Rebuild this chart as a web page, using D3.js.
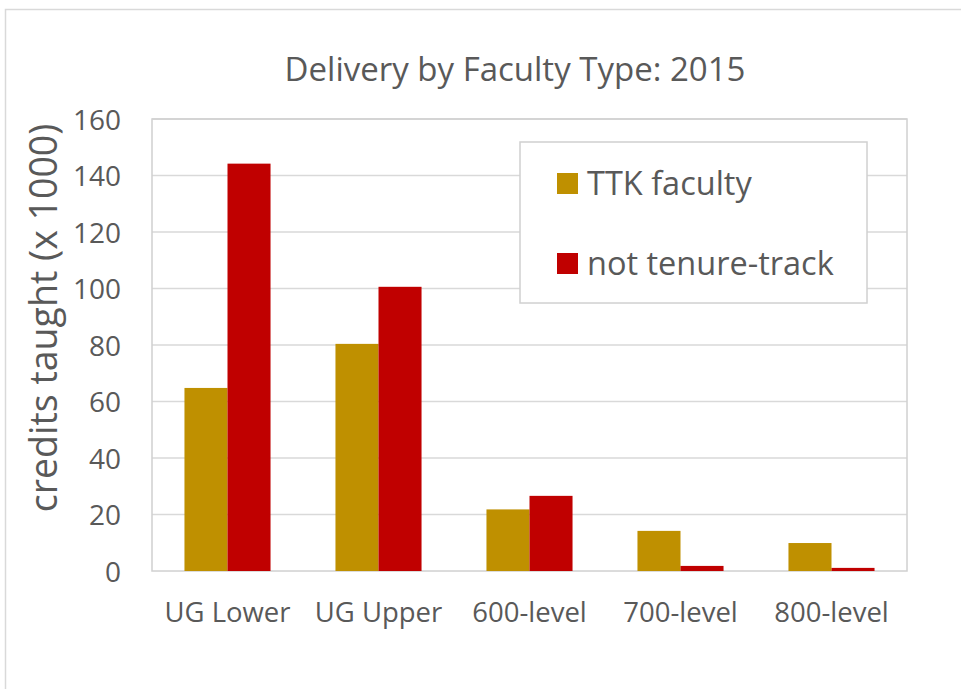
<!DOCTYPE html>
<html><head><meta charset="utf-8">
<script src="https://cdn.jsdelivr.net/npm/d3@7"></script>
<style>body{margin:0;background:#fff}svg{display:block}text{font-family:"Open Sans",sans-serif;fill:#595959}</style>
</head><body>
<script>
const categories = ["UG Lower","UG Upper","600-level","700-level","800-level"];
const seriesNames = ["TTK faculty","not tenure-track"];
const ttkValues = [64.8, 80.4, 21.8, 14.2, 9.9];
const nttValues = [144.2, 100.6, 26.6, 1.8, 1.1];
const yTicks = [0,20,40,60,80,100,120,140,160];
const colors = ["#bf9000","#c00000"];

const W=961,H=689;
const svg=d3.select("body").append("svg").attr("width",W).attr("height",H);
svg.append("rect").attr("x",5.5).attr("y",9.5).attr("width",W).attr("height",H).attr("fill","#fff").attr("stroke","#d9d9d9").attr("stroke-width",1.5);

const L=152,R=907,T=119,B=571;
const x=d3.scaleBand().domain(categories).range([L,R]).paddingInner(0.43).paddingOuter(0.215);
const xs=d3.scaleBand().domain(seriesNames).range([0,x.bandwidth()]);
const y=d3.scaleLinear().domain([0,160]).range([B,T]);

// gridlines
svg.append("g").selectAll("line").data(yTicks.filter(d=>d>0)).join("line")
 .attr("x1",L).attr("x2",R).attr("y1",d=>y(d)).attr("y2",d=>y(d)).attr("stroke","#d9d9d9").attr("stroke-width",1.5);
// plot border
svg.append("rect").attr("x",L).attr("y",T).attr("width",R-L).attr("height",B-T).attr("fill","none").attr("stroke","#d0d0d0").attr("stroke-width",1.5);

const data=categories.map((c,i)=>({c,vals:[ttkValues[i],nttValues[i]]}));
const g=svg.append("g").selectAll("g").data(data).join("g").attr("transform",d=>`translate(${x(d.c)},0)`);
g.selectAll("rect").data(d=>d.vals.map((v,j)=>({v,s:seriesNames[j],j}))).join("rect")
 .attr("x",d=>xs(d.s)).attr("width",xs.bandwidth()).attr("y",d=>y(d.v)).attr("height",d=>B-y(d.v)).attr("fill",d=>colors[d.j]);

// y axis labels
const yAxis=d3.axisLeft(y).tickValues(yTicks).tickSize(0).tickPadding(0);
const ya=svg.append("g").attr("transform",`translate(${121},0)`).call(yAxis);
ya.select(".domain").remove();
ya.selectAll("text").style("font-size","28px").attr("fill","#595959").attr("dy","0.36em");

// x axis labels
const xAxis=d3.axisBottom(x).tickSize(0).tickPadding(0);
const xa=svg.append("g").attr("transform",`translate(0,${622})`).call(xAxis);
xa.select(".domain").remove();
xa.selectAll("text").style("font-size","27.5px").attr("fill","#595959").attr("dy","0");

// axis title
svg.append("text").attr("transform","translate(57,318) rotate(-90)").attr("text-anchor","middle")
 .style("font-size","37.5px").text("credits taught (x 1000)");
// title
svg.append("text").attr("x",515).attr("y",81).attr("text-anchor","middle").style("font-size","33px").text("Delivery by Faculty Type: 2015");

// legend
svg.append("rect").attr("x",520).attr("y",142).attr("width",347).attr("height",161).attr("fill","#fff").attr("stroke","#d0d0d0").attr("stroke-width",1.5);
const lg=svg.append("g").selectAll("g").data(seriesNames).join("g").attr("transform",(d,i)=>`translate(557,${173+i*80})`);
lg.append("rect").attr("width",21).attr("height",21).attr("fill",(d,i)=>colors[i]);
lg.append("text").attr("x",30).attr("y",22).style("font-size","32.5px").text(d=>d);
</script>
</body></html>
